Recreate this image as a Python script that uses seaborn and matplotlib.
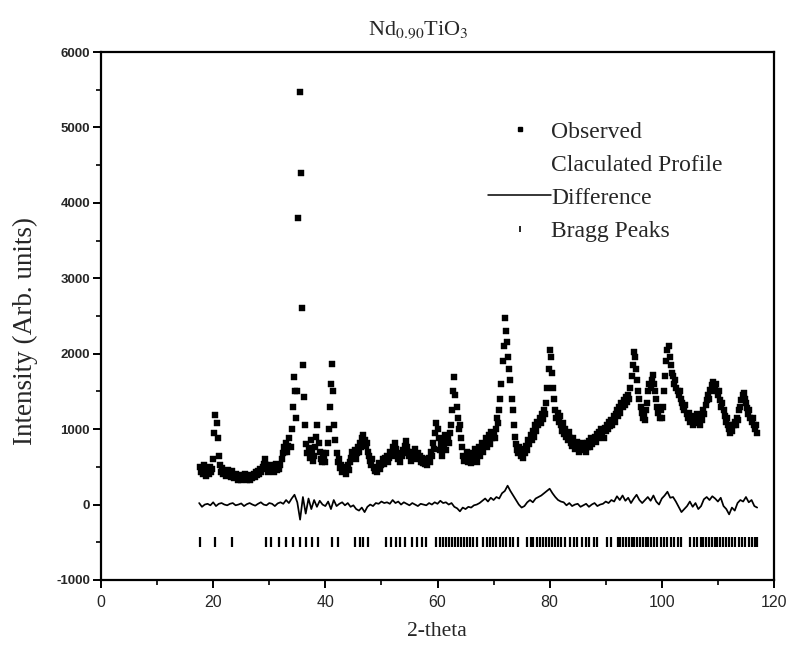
import numpy as np
import pandas as pd
import matplotlib
matplotlib.use("Agg")
import matplotlib.pyplot as plt
from matplotlib.lines import Line2D
from matplotlib.ticker import MultipleLocator
import seaborn as sns

# ---------------- data ----------------
obs_start, obs_step = 17.6, 0.2
observed = [
    500, 430,
    470, 400, 520, 440, 380,
    460, 410, 500, 430, 470,
    600, 950, 1190, 1080, 880,
    640, 520, 430, 480, 410,
    450, 380, 430, 460, 400,
    420, 370, 440, 390, 350,
    410, 360, 330, 390, 350,
    320, 380, 340, 400, 350,
    330, 390, 360, 320, 380,
    350, 410, 370, 430, 390,
    440, 400, 470, 430, 500,
    540, 600, 520, 470, 430,
    500, 450, 520, 470, 430,
    490, 540, 460, 510, 470,
    520, 600, 680, 760, 700,
    820, 700, 780, 880, 760,
    1000, 1300, 1690, 1500, 1150,
    1500, 3800, 5470, 4400, 2600,
    1850, 1430, 1050, 800, 680,
    750, 620, 860, 700, 580,
    650, 760, 900, 1050, 820,
    700, 600, 560, 680, 620,
    560, 680, 820, 1000, 1300,
    1600, 1860, 1500, 1050, 850,
    680, 560, 600, 480, 520,
    430, 500, 450, 400, 470,
    520, 460, 560, 620, 700,
    650, 720, 600, 680, 760,
    700, 820, 760, 880, 920,
    850, 780, 820, 700, 640,
    580, 520, 600, 480, 450,
    500, 430, 480, 550, 470,
    520, 600, 540, 620, 580,
    650, 560, 620, 700, 640,
    760, 690, 820, 740, 660,
    600, 680, 560, 640, 720,
    680, 780, 840, 760, 700,
    650, 580, 700, 620, 680,
    740, 660, 600, 690, 640,
    570, 620, 550, 600, 540,
    580, 520, 620, 560, 700,
    650, 820, 740, 950, 1080,
    1000, 880, 720, 800, 650,
    860, 780, 920, 720, 880,
    820, 950, 1050, 1250, 1500,
    1690, 1450, 1300, 1150, 1000,
    1050, 880, 760, 640, 580,
    620, 700, 560, 650, 600,
    550, 680, 620, 740, 600,
    560, 680, 760, 640, 720,
    820, 700, 780, 880, 760,
    850, 920, 800, 960, 880,
    940, 880, 1000, 1150, 1080,
    1250, 1400, 1600, 1900, 2100,
    2470, 2300, 2150, 1950, 1800,
    1650, 1400, 1250, 1050, 900,
    800, 720, 680, 760, 640,
    700, 620, 740, 680, 780,
    720, 850, 800, 920, 860,
    980, 900, 1050, 980, 1100,
    1050, 1150, 1080, 1200, 1130,
    1250, 1200, 1350, 1550, 1800,
    2050, 1950, 1750, 1550, 1400,
    1250, 1150, 1220, 1100, 1180,
    1050, 980, 1080, 940, 1000,
    900, 850, 960, 880, 820,
    780, 880, 800, 740, 830,
    760, 700, 800, 740, 820,
    720, 780, 700, 820, 760,
    840, 760, 880, 800, 860,
    900, 830, 940, 880, 960,
    920, 1000, 950, 880, 1020,
    980, 1060, 1000, 1100, 1040,
    1120, 1060, 1180, 1100, 1200,
    1250, 1180, 1300, 1220, 1350,
    1300, 1380, 1320, 1420, 1360,
    1450, 1400, 1550, 1700, 1850,
    2020, 1950, 1800, 1650, 1500,
    1400, 1300, 1220, 1150, 1200,
    1120, 1250, 1350, 1500, 1600,
    1550, 1650, 1720, 1600, 1500,
    1400, 1300, 1220, 1150, 1250,
    1150, 1300, 1500, 1700, 1900,
    2050, 2100, 1950, 1850, 1750,
    1700, 1600, 1650, 1550, 1500,
    1450, 1500, 1400, 1350, 1300,
    1250, 1320, 1200, 1150, 1220,
    1100, 1180, 1120, 1060, 1150,
    1100, 1200, 1080, 1150, 1050,
    1180, 1120, 1250, 1200, 1320,
    1380, 1450, 1400, 1520, 1500,
    1580, 1620, 1550, 1600, 1500,
    1450, 1500, 1380, 1300, 1350,
    1250, 1180, 1100, 1150, 1050,
    1000, 950, 1050, 980, 1050,
    1100, 1050, 1150, 1120, 1250,
    1300, 1380, 1450, 1480, 1400,
    1350, 1280, 1200, 1250, 1150,
    1100, 1150, 1050, 1000, 1050,
    950,
]

diff_start, diff_step = 17.5, 0.5
difference = [
    20, -30, 0, 10, -10, 30, -20, 10, 20, 0,
    -10, 10, 20, -10, 0, 15, -20, 5, 20, 0,
    -15, 10, 30, 0, -10, 20, 10, -20, 15, 30,
    10, 60, 20, 80, 130, 30, -200, 100, -120, 80,
    -60, 60, -30, 50, 0, -20, 40, -60, 60, -20,
    10, 30, -10, 20, -30, -10, -60, -80, -40, -100,
    -30, 0, -20, 20, 10, 40, 20, 30, 10, 60,
    20, 40, 0, 30, 10, -10, 20, 0, -20, 10,
    0, -10, 20, 0, 30, 10, 50, 20, 30, 0,
    20, -30, -50, -90, -40, -60, -30, -40, -10, 0,
    20, 50, 80, 40, 90, 60, 100, 80, 150, 180,
    250, 180, 120, 60, 0, -40, -20, 30, 60, 30,
    80, 100, 120, 150, 180, 210, 150, 100, 60, 40,
    30, -10, 20, -20, 0, 10, -30, -10, 10, -30,
    0, 20, -20, 0, 10, 40, 20, 60, 40, 110,
    60, 120, 50, 90, 20, 80, 130, 60, 20, 60,
    100, 50, 120, 40, 0, 80, 120, 170, 90, 100,
    40, -30, -100, -60, -20, 40, -30, 20, -60, -20,
    70, 100, 60, 110, 80, 40, 90, -20, -60, -130,
    -40, -80, 20, 60, 40, 100, 30, 60, -20, -40,
]

bragg_positions = [
    17.7, 20.4, 23.3, 29.4, 30.4, 31.7, 33.0, 34.2, 35.4, 36.6, 37.7, 38.7,
    41.2, 42.3, 45.2, 46.1, 46.8, 47.6, 50.9, 51.7, 52.6, 53.4, 54.2, 55.5,
    56.3, 57.3, 58.0,
    59.7, 60.4, 61.0, 61.5, 62.0, 62.6, 63.1, 63.7, 64.2, 64.8, 65.3, 65.8,
    66.4, 67.0,
    68.2, 68.8, 69.4, 69.9, 70.5, 71.1, 71.6, 72.2, 72.9, 73.5, 74.3,
    76.0, 76.6, 77.1, 77.7, 78.2, 78.8, 79.3, 79.9, 80.4, 81.0, 81.5, 82.1, 82.7,
    83.7, 84.3, 84.8, 85.8, 86.4, 87.0, 87.9, 88.5,
    90.3, 90.9,
    92.1, 92.6, 93.1, 93.6, 94.1, 94.6, 95.1, 95.6, 96.1, 96.6, 97.1, 97.6,
    98.1, 98.6, 99.1,
    99.8, 100.4, 101.0, 101.6, 102.2, 102.8, 103.4,
    105.1, 105.7, 106.3,
    106.9, 107.4, 107.9, 108.4, 108.9, 109.4, 109.9, 110.4, 110.9, 111.4,
    111.9, 112.5, 113.1, 113.7, 114.3, 114.9, 115.5, 116.0, 116.6, 117.0,
]
bragg_level = -500

title_text = "Nd$_{0.90}$TiO$_3$"
x_label = "2-theta"
y_label = "Intensity (Arb. units)"
legend_labels = ["Observed", "Claculated Profile", "Difference", "Bragg Peaks"]

# ---------------- frames ----------------
obs_df = pd.DataFrame({
    "two_theta": obs_start + obs_step * np.arange(len(observed)),
    "intensity": observed,
})
diff_df = pd.DataFrame({
    "two_theta": diff_start + diff_step * np.arange(len(difference)),
    "intensity": difference,
})
bragg_df = pd.DataFrame({
    "two_theta": bragg_positions,
    "intensity": [bragg_level] * len(bragg_positions),
})

# ---------------- style ----------------
sns.set_theme(style="ticks")
serif = ["Liberation Serif", "DejaVu Serif"]
plt.rcParams["font.family"] = serif
plt.rcParams["mathtext.fontset"] = "stix"
plt.rcParams["axes.unicode_minus"] = False

fig = plt.figure(figsize=(7.91, 6.46), dpi=100)
ax = fig.add_axes([0.1277, 0.1022, 0.8508, 0.8173])

sns.scatterplot(data=obs_df, x="two_theta", y="intensity", ax=ax,
                marker="s", s=20, color="black", edgecolor="black",
                linewidth=0.3, legend=False, zorder=3)
sns.lineplot(data=diff_df, x="two_theta", y="intensity", ax=ax,
             color="black", linewidth=1.25, legend=False, zorder=3)
ax.plot(bragg_df["two_theta"], bragg_df["intensity"], linestyle="none",
        marker="|", markersize=7, markeredgewidth=1.6, color="black", zorder=3)

ax.set_xlim(0, 120)
ax.set_ylim(-1000, 6000)
ax.xaxis.set_major_locator(MultipleLocator(20))
ax.xaxis.set_minor_locator(MultipleLocator(10))
ax.yaxis.set_major_locator(MultipleLocator(1000))
ax.yaxis.set_minor_locator(MultipleLocator(500))
ax.set_xlabel("")
ax.set_ylabel("")

for side in ["left", "right", "top", "bottom"]:
    ax.spines[side].set_visible(True)
    ax.spines[side].set_linewidth(1.6)
    ax.spines[side].set_color("black")

ax.tick_params(axis="both", which="major", direction="out", length=6,
               width=1.4, color="black")
ax.tick_params(axis="both", which="minor", direction="out", length=3.5,
               width=1.2, color="black")
ax.tick_params(top=False, right=False, which="both")
ax.tick_params(axis="y", pad=2)
ax.tick_params(axis="x", pad=5)

for lab in ax.get_yticklabels():
    lab.set_fontfamily(["Liberation Sans", "DejaVu Sans"])
    lab.set_fontweight("bold")
    lab.set_fontsize(9.5)
for lab in ax.get_xticklabels():
    lab.set_fontfamily(["Liberation Sans", "DejaVu Sans"])
    lab.set_fontsize(11.5)

fig.text(418 / 791, 1 - 30 / 646, title_text, ha="center", va="center",
         fontsize=16, fontfamily=serif)
fig.text(437 / 791, 1 - 632 / 646, x_label, ha="center", va="center",
         fontsize=15.5, fontfamily=serif)
fig.text(25 / 791, 1 - 331 / 646, y_label, ha="center", va="center",
         rotation=90, fontsize=19.5, fontfamily=serif)

handles = [
    Line2D([], [], linestyle="none", marker="s", markersize=3.5, color="black"),
    Line2D([], [], linestyle="none", color="black"),
    Line2D([], [], linestyle="-", linewidth=1.1, color="black"),
    Line2D([], [], linestyle="none", marker="|", markersize=5,
           markeredgewidth=1.2, color="black"),
]
leg = ax.legend(handles, legend_labels, loc="upper left",
                bbox_to_anchor=((488 - 101) / 673, (580 - 121) / 528),
                frameon=False, handlelength=2.67,
                handletextpad=0.0, labelspacing=0.49, borderpad=0.0,
                borderaxespad=0.0, prop={"family": serif, "size": 17})

fig.savefig("out.png", dpi=100)
